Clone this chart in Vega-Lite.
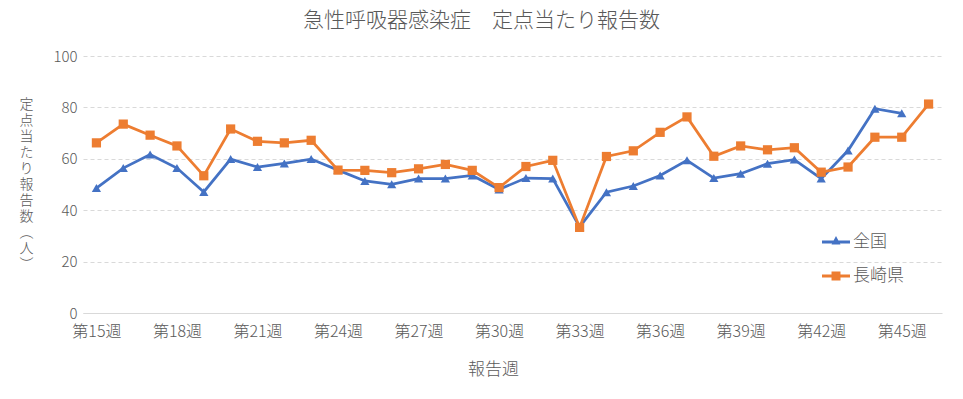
{
  "$schema": "https://vega.github.io/schema/vega-lite/v6.json",
  "autosize": "none",
  "width": 859,
  "height": 257,
  "padding": {"left": 83, "top": 56, "right": 21, "bottom": 86},
  "background": "white",
  "config": {
    "font": "Noto Sans CJK JP",
    "view": {"stroke": null}
  },
  "title": {
    "text": "急性呼吸器感染症　定点当たり報告数",
    "fontSize": 21,
    "fontWeight": 300,
    "color": "#595959",
    "anchor": "middle",
    "dx": -31,
    "offset": 18
  },
  "data": {
    "values": [
      {"week": 15, "series": "全国", "value": 48.6},
      {"week": 16, "series": "全国", "value": 56.4},
      {"week": 17, "series": "全国", "value": 61.7},
      {"week": 18, "series": "全国", "value": 56.4},
      {"week": 19, "series": "全国", "value": 47.1},
      {"week": 20, "series": "全国", "value": 59.9},
      {"week": 21, "series": "全国", "value": 56.8},
      {"week": 22, "series": "全国", "value": 58.2},
      {"week": 23, "series": "全国", "value": 59.9},
      {"week": 24, "series": "全国", "value": 55.6},
      {"week": 25, "series": "全国", "value": 51.4},
      {"week": 26, "series": "全国", "value": 50.1},
      {"week": 27, "series": "全国", "value": 52.3},
      {"week": 28, "series": "全国", "value": 52.3},
      {"week": 29, "series": "全国", "value": 53.5},
      {"week": 30, "series": "全国", "value": 48.1},
      {"week": 31, "series": "全国", "value": 52.5},
      {"week": 32, "series": "全国", "value": 52.3},
      {"week": 33, "series": "全国", "value": 33.5},
      {"week": 34, "series": "全国", "value": 47.0},
      {"week": 35, "series": "全国", "value": 49.4},
      {"week": 36, "series": "全国", "value": 53.5},
      {"week": 37, "series": "全国", "value": 59.4},
      {"week": 38, "series": "全国", "value": 52.5},
      {"week": 39, "series": "全国", "value": 54.2},
      {"week": 40, "series": "全国", "value": 58.1},
      {"week": 41, "series": "全国", "value": 59.7},
      {"week": 42, "series": "全国", "value": 52.3},
      {"week": 43, "series": "全国", "value": 63.2},
      {"week": 44, "series": "全国", "value": 79.5},
      {"week": 45, "series": "全国", "value": 77.7},
      {"week": 15, "series": "長崎県", "value": 66.2},
      {"week": 16, "series": "長崎県", "value": 73.5},
      {"week": 17, "series": "長崎県", "value": 69.2},
      {"week": 18, "series": "長崎県", "value": 65.0},
      {"week": 19, "series": "長崎県", "value": 53.4},
      {"week": 20, "series": "長崎県", "value": 71.6},
      {"week": 21, "series": "長崎県", "value": 66.8},
      {"week": 22, "series": "長崎県", "value": 66.2},
      {"week": 23, "series": "長崎県", "value": 67.2},
      {"week": 24, "series": "長崎県", "value": 55.6},
      {"week": 25, "series": "長崎県", "value": 55.5},
      {"week": 26, "series": "長崎県", "value": 54.6},
      {"week": 27, "series": "長崎県", "value": 56.1},
      {"week": 28, "series": "長崎県", "value": 57.8},
      {"week": 29, "series": "長崎県", "value": 55.5},
      {"week": 30, "series": "長崎県", "value": 48.8},
      {"week": 31, "series": "長崎県", "value": 57.0},
      {"week": 32, "series": "長崎県", "value": 59.4},
      {"week": 33, "series": "長崎県", "value": 33.3},
      {"week": 34, "series": "長崎県", "value": 60.9},
      {"week": 35, "series": "長崎県", "value": 63.1},
      {"week": 36, "series": "長崎県", "value": 70.3},
      {"week": 37, "series": "長崎県", "value": 76.3},
      {"week": 38, "series": "長崎県", "value": 61.0},
      {"week": 39, "series": "長崎県", "value": 65.0},
      {"week": 40, "series": "長崎県", "value": 63.5},
      {"week": 41, "series": "長崎県", "value": 64.3},
      {"week": 42, "series": "長崎県", "value": 54.8},
      {"week": 43, "series": "長崎県", "value": 56.8},
      {"week": 44, "series": "長崎県", "value": 68.4},
      {"week": 45, "series": "長崎県", "value": 68.4},
      {"week": 46, "series": "長崎県", "value": 81.3}
    ]
  },
  "encoding": {
    "x": {
      "field": "week",
      "type": "quantitative",
      "scale": {"domain": [14.5, 46.5], "nice": false, "zero": false},
      "axis": {
        "title": "報告週",
        "values": [15, 18, 21, 24, 27, 30, 33, 36, 39, 42, 45],
        "labelExpr": "'第' + datum.value + '週'",
        "grid": false,
        "ticks": false,
        "domain": true,
        "domainColor": "#d9d9d9",
        "domainWidth": 1,
        "labelFontSize": 16,
        "labelFontWeight": 300,
        "labelColor": "#595959",
        "labelPadding": 10,
        "labelFlush": false,
        "labelOverlap": false,
        "titleFontSize": 17,
        "titleFontWeight": 300,
        "titleColor": "#595959",
        "titleX": 410,
        "titleY": 48,
        "titleBaseline": "top"
      }
    },
    "y": {
      "field": "value",
      "type": "quantitative",
      "scale": {"domain": [0, 100], "nice": false},
      "axis": {
        "title": ["定", "点", "当", "た", "り", "報", "告", "数", "︵", "人", "︶"],
        "values": [0, 20, 40, 60, 80, 100],
        "grid": true,
        "gridColor": "#d9d9d9",
        "gridDash": [4, 3],
        "gridWidth": 1,
        "ticks": false,
        "domain": false,
        "labelFontSize": 15,
        "labelFontWeight": 300,
        "labelColor": "#595959",
        "labelPadding": 6,
        "titleFontSize": 14,
        "titleFontWeight": 300,
        "titleColor": "#595959",
        "titleAngle": 0,
        "titleAlign": "center",
        "titleBaseline": "top",
        "titleLineHeight": 16,
        "titleX": -57,
        "titleY": 41
      }
    },
    "color": {
      "field": "series",
      "type": "nominal",
      "scale": {"domain": ["全国", "長崎県"], "range": ["#4472C4", "#ED7D31"]},
      "legend": {
        "title": null,
        "orient": "none",
        "legendX": 739,
        "legendY": 172,
        "padding": 0,
        "symbolSize": 784,
        "symbolStrokeWidth": 0,
        "rowPadding": 12,
        "labelOffset": 3,
        "labelFontSize": 17,
        "labelFontWeight": 300,
        "labelColor": "#595959",
        "encode": {
          "symbols": {
            "update": {
              "shape": {"signal": "datum.value === '全国' ? 'M-1,-0.1H1V0.1H-1Z M0,-0.42L0.32,0.18H-0.32Z' : 'M-1,-0.1H1V0.1H-1Z M-0.32,-0.32H0.32V0.32H-0.32Z'"},
              "fill": {"signal": "datum.value === '全国' ? '#4472C4' : '#ED7D31'"},
              "stroke": {"value": "transparent"},
              "opacity": {"value": 1}
            }
          }
        }
      }
    }
  },
  "layer": [
    {
      "mark": {"type": "line", "strokeWidth": 2.75}
    },
    {
      "transform": [{"filter": "datum.series === '全国'"}],
      "mark": {"type": "point", "filled": true, "opacity": 1, "size": 85, "shape": "triangle-up"}
    },
    {
      "transform": [{"filter": "datum.series === '長崎県'"}],
      "mark": {"type": "point", "filled": true, "opacity": 1, "size": 85, "shape": "square"}
    }
  ]
}
